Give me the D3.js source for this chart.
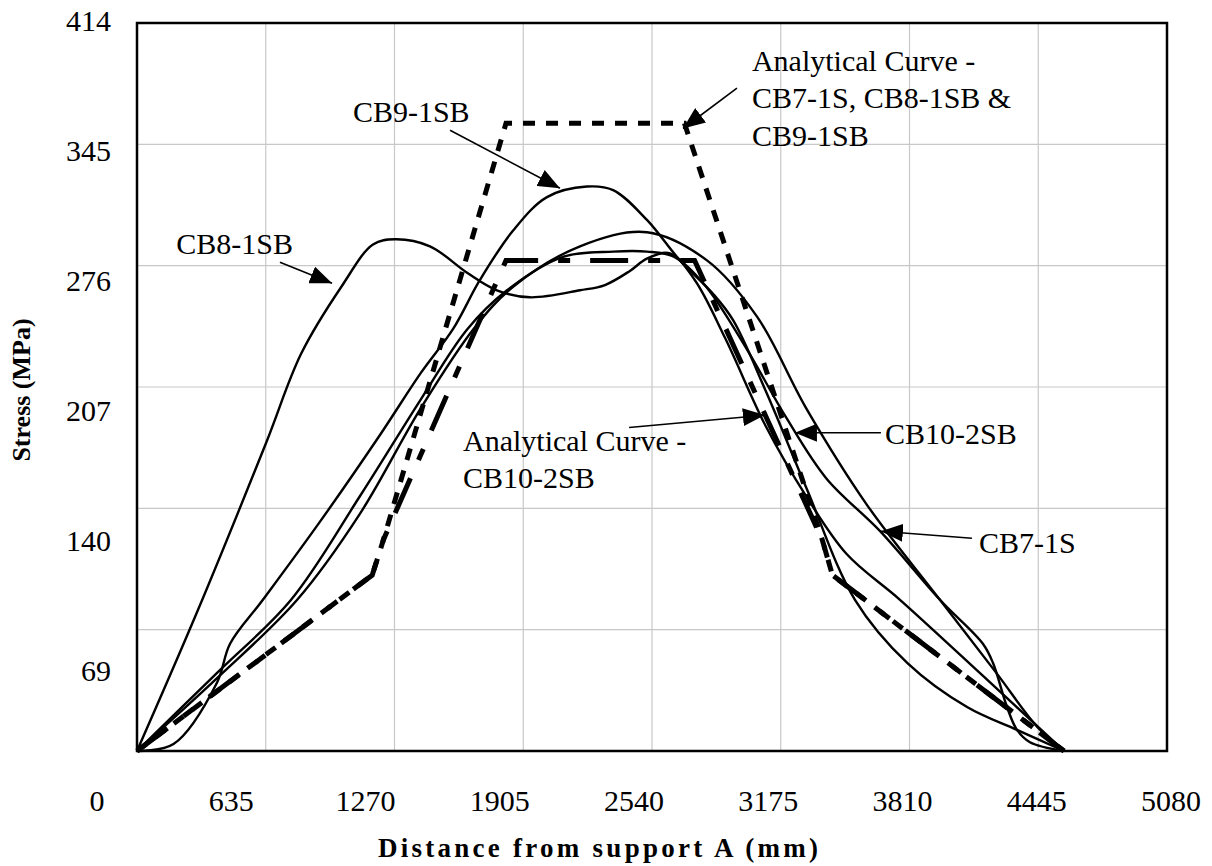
<!DOCTYPE html>
<html lang="en">
<head>
    <meta charset="utf-8">
    <title>Stress vs distance</title>
    <script src="https://cdn.jsdelivr.net/npm/d3@7/dist/d3.min.js"></script>
    <style>
        body { margin: 0; background: #fff; }
        svg text { font-family: "Liberation Serif", "Times New Roman", serif; fill: #000; }
    </style>
</head>
<body>
<svg id="chart" width="1212" height="866"></svg>
<script>
    // axis ticks (mm / MPa)
    var xTicks = [0, 635, 1270, 1905, 2540, 3175, 3810, 4445, 5080];
    var yTicks = [0, 69, 138, 207, 276, 345, 414];
    var yTickLabels = ["0", "69", "140", "207", "276", "345", "414"];

    // analytical curves
    var anaX789 = [0, 1160, 1215, 1820, 2700, 3380, 3430, 4572];
    var anaY789 = [0, 100, 120, 357, 357, 120, 100, 0];
    var anaX10 = [0, 1160, 1215, 1820, 2750, 3380, 3430, 4572];
    var anaY10 = [0, 100, 120, 279, 279, 120, 100, 0];

    // measured curves
    var cb8X = [0, 300, 636, 810, 1008, 1164, 1272, 1445, 1628, 1775, 1938, 2185, 2308, 2431, 2515, 2629, 2750, 2900, 3100, 3300, 3500, 3763, 4170, 4572];
    var cb8Y = [0, 80, 175, 226, 264, 288, 291, 287, 272, 262, 258, 262, 265, 273, 280, 283, 268, 235, 185, 145, 112, 86, 43, 0];
    var cb9X = [0, 180, 395, 459, 621, 900, 1200, 1400, 1559, 1692, 1855, 2022, 2219, 2348, 2515, 2678, 2841, 2940, 3100, 3300, 3541, 3800, 4094, 4340, 4572];
    var cb9Y = [0, 4, 39, 61, 86, 130, 180, 215, 240, 268, 296, 315, 321, 319, 302, 279, 260, 245, 205, 150, 86, 50, 25, 12, 0];
    var cb10X = [0, 400, 790, 1100, 1400, 1660, 1855, 2185, 2515, 2811, 3058, 3300, 3600, 3960, 4241, 4438, 4572];
    var cb10Y = [0, 42, 86, 135, 195, 240, 264, 287, 295, 279, 247, 195, 140, 86, 44, 14, 0];
    var cb7X = [0, 400, 760, 1100, 1400, 1630, 1825, 2101, 2348, 2515, 2650, 2800, 3000, 3200, 3400, 3665, 3960, 4172, 4222, 4291, 4340, 4404, 4572];
    var cb7Y = [0, 45, 86, 145, 200, 240, 262, 281, 284, 284, 281, 265, 230, 190, 155, 125, 86, 61, 50, 25, 12, 5, 0];

    var svg = d3.select("#chart");
    var x = d3.scaleLinear().domain([0, 5080]).range([137, 1167]);
    var y = d3.scaleLinear().domain([0, 414]).range([751, 23]);
    // the tick labels sit a little off the grid, as in the original
    var xLab = d3.scaleLinear().domain([0, 5080]).range([97, 1171]);
    var yLab = d3.scaleLinear().domain([0, 414]).range([800, 20]);

    // grid
    svg.append("g").selectAll("line.v")
        .data(xTicks.slice(1, -1)).enter().append("line")
        .attr("x1", function (d) { return x(d); }).attr("x2", function (d) { return x(d); })
        .attr("y1", y(0)).attr("y2", y(414))
        .attr("stroke", "#c8c8c8").attr("stroke-width", 1.2);
    svg.append("g").selectAll("line.h")
        .data(yTicks.slice(1, -1)).enter().append("line")
        .attr("x1", x(0)).attr("x2", x(5080))
        .attr("y1", function (d) { return y(d); }).attr("y2", function (d) { return y(d); })
        .attr("stroke", "#c8c8c8").attr("stroke-width", 1.2);

    function zip(xs, ys) { return xs.map(function (v, i) { return [v, ys[i]]; }); }

    var straight = d3.line().x(function (d) { return x(d[0]); }).y(function (d) { return y(d[1]); });
    var smooth = d3.line().x(function (d) { return x(d[0]); }).y(function (d) { return y(d[1]); })
        .curve(d3.curveCatmullRom.alpha(0.5));

    // analytical curves
    svg.append("path").attr("d", straight(zip(anaX10, anaY10)))
        .attr("fill", "none").attr("stroke", "#000").attr("stroke-width", 5)
        .attr("stroke-dasharray", "38,20,12,20");
    svg.append("path").attr("d", straight(zip(anaX789, anaY789)))
        .attr("fill", "none").attr("stroke", "#000").attr("stroke-width", 5)
        .attr("stroke-dasharray", "12,11");

    // measured curves
    [[cb7X, cb7Y], [cb8X, cb8Y], [cb9X, cb9Y], [cb10X, cb10Y]].forEach(function (s) {
        svg.append("path").attr("d", smooth(zip(s[0], s[1])))
            .attr("fill", "none").attr("stroke", "#000").attr("stroke-width", 2.4);
    });

    // frame
    svg.append("rect")
        .attr("x", x(0)).attr("y", y(414))
        .attr("width", x(5080) - x(0)).attr("height", y(0) - y(414))
        .attr("fill", "none").attr("stroke", "#000").attr("stroke-width", 2.5);

    // tick labels
    svg.append("g").selectAll("text")
        .data(xTicks).enter().append("text")
        .attr("x", function (d) { return xLab(d); })
        .attr("y", 800)
        .attr("text-anchor", "middle").attr("dominant-baseline", "central")
        .attr("font-size", 30)
        .text(function (d) { return d; });
    svg.append("g").selectAll("text")
        .data(yTicks.slice(1)).enter().append("text")
        .attr("x", 111)
        .attr("y", function (d) { return yLab(d); })
        .attr("text-anchor", "end").attr("dominant-baseline", "central")
        .attr("font-size", 30)
        .text(function (d, i) { return yTickLabels[i + 1]; });

    // axis titles
    svg.append("text")
        .attr("x", 378).attr("y", 848)
        .attr("dominant-baseline", "central")
        .attr("font-size", 27).attr("font-weight", "bold")
        .attr("textLength", 440).attr("lengthAdjust", "spacing")
        .text("Distance from support A (mm)");
    svg.append("text")
        .attr("transform", "translate(21,390) rotate(-90)")
        .attr("text-anchor", "middle").attr("dominant-baseline", "central")
        .attr("font-size", 26).attr("font-weight", "bold")
        .text("Stress (MPa)");

    // arrow head
    svg.append("defs").append("marker")
        .attr("id", "head").attr("markerUnits", "userSpaceOnUse")
        .attr("viewBox", "0 0 22 18").attr("refX", 22).attr("refY", 9)
        .attr("markerWidth", 22).attr("markerHeight", 18).attr("orient", "auto")
        .append("path").attr("d", "M0,0 L22,9 L0,18 Z").attr("fill", "#000");

    // callouts: label lines, text anchor, arrow from -> to (data units)
    var notes = [
        { lines: ["CB9-1SB"], at: [1065, 364], anchor: "start", from: [1544, 353], to: [2086, 320] },
        { lines: ["CB8-1SB"], at: [769, 289], anchor: "end", from: [705, 278], to: [962, 266] },
        { lines: ["Analytical Curve -", "CB7-1S, CB8-1SB &", "CB9-1SB"], at: [3033, 393], anchor: "start", from: [2959, 377], to: [2693, 354] },
        { lines: ["CB10-2SB"], at: [3689, 181], anchor: "start", from: [3669, 181], to: [3245, 181] },
        { lines: ["Analytical Curve -", "CB10-2SB"], at: [1608, 177], anchor: "start", from: [2427, 184], to: [3097, 191] },
        { lines: ["CB7-1S"], at: [4153, 119], anchor: "start", from: [4118, 121], to: [3669, 125] }
    ];

    notes.forEach(function (n) {
        svg.append("line")
            .attr("x1", x(n.from[0])).attr("y1", y(n.from[1]))
            .attr("x2", x(n.to[0])).attr("y2", y(n.to[1]))
            .attr("stroke", "#000").attr("stroke-width", 1.6)
            .attr("marker-end", "url(#head)");
        var t = svg.append("text")
            .attr("x", x(n.at[0])).attr("y", y(n.at[1]))
            .attr("text-anchor", n.anchor).attr("dominant-baseline", "central")
            .attr("font-size", 30);
        n.lines.forEach(function (s, i) {
            t.append("tspan").attr("x", x(n.at[0])).attr("dy", i === 0 ? 0 : 37.5).text(s);
        });
    });
</script>
</body>
</html>
